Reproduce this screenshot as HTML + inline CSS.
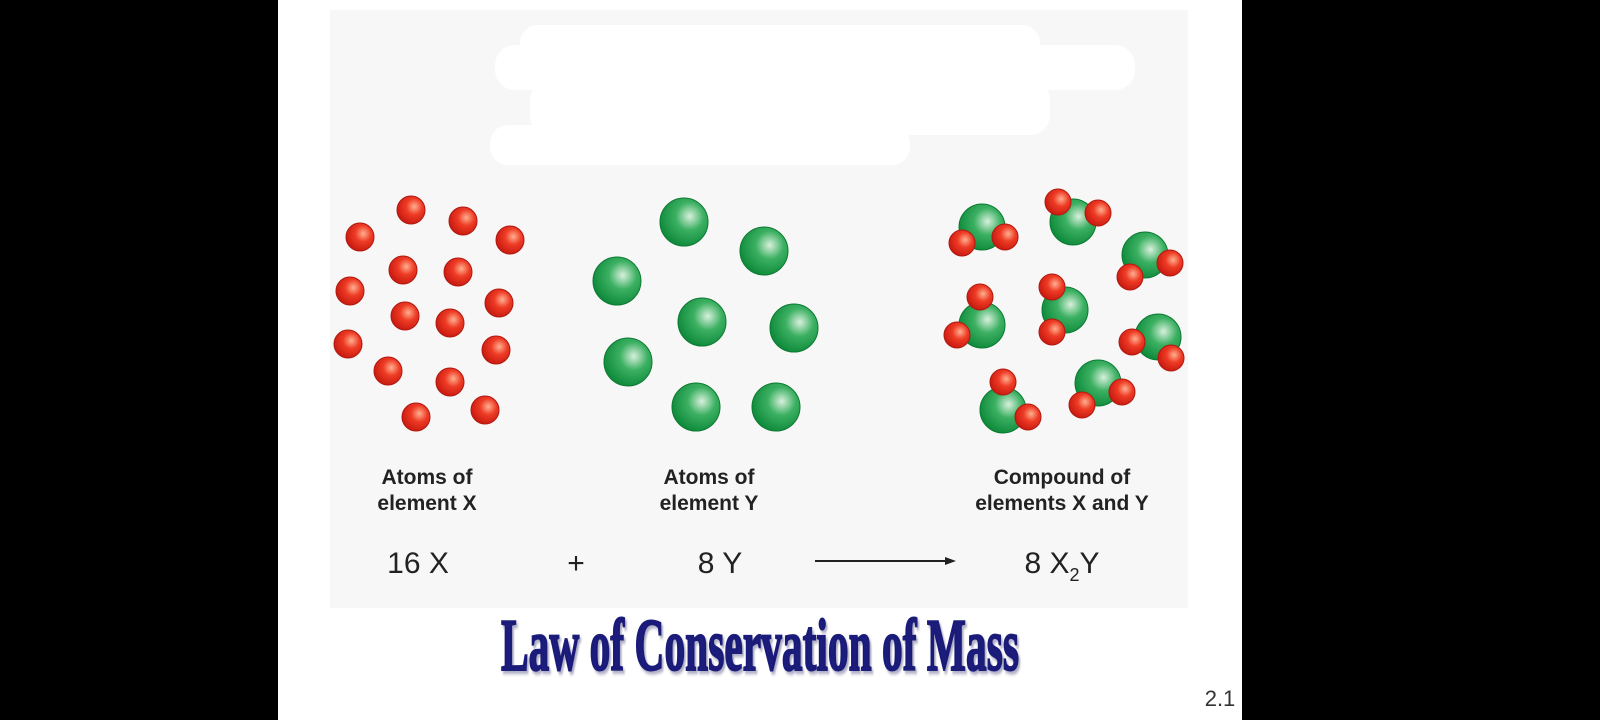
<!DOCTYPE html>
<html><head><meta charset="utf-8"><style>
body{margin:0;background:#000;width:1600px;height:720px;overflow:hidden}
svg{display:block}
</style></head><body>
<svg width="1600" height="720" viewBox="0 0 1600 720" xmlns="http://www.w3.org/2000/svg">
<defs>
<radialGradient id="r" cx="0.62" cy="0.38" r="0.65">
<stop offset="0" stop-color="#ffb090"/><stop offset="0.45" stop-color="#ee3b25"/><stop offset="1" stop-color="#c81a10"/>
</radialGradient>
<radialGradient id="g" cx="0.62" cy="0.38" r="0.65">
<stop offset="0" stop-color="#d8f0dc"/><stop offset="0.45" stop-color="#3cb062"/><stop offset="1" stop-color="#0e8a3a"/>
</radialGradient>
<filter id="sh"><feDropShadow dx="3" dy="3" stdDeviation="1.5" flood-color="#8888aa" flood-opacity="0.7"/></filter>
</defs>
<rect x="278" y="0" width="964" height="720" fill="#fff"/>
<rect x="330" y="10" width="858" height="598" fill="#f7f7f7"/>
<rect x="520" y="25" width="520" height="40" rx="18" fill="#fff"/>
<rect x="495" y="45" width="640" height="45" rx="20" fill="#fff"/>
<rect x="530" y="80" width="520" height="55" rx="20" fill="#fff"/>
<rect x="490" y="125" width="420" height="40" rx="18" fill="#fff"/>
<g stroke="#b01810" stroke-width="1" fill="url(#r)">
<circle cx="360" cy="237" r="14"/><circle cx="411" cy="210" r="14"/><circle cx="463" cy="221" r="14"/><circle cx="510" cy="240" r="14"/>
<circle cx="350" cy="291" r="14"/><circle cx="403" cy="270" r="14"/><circle cx="458" cy="272" r="14"/><circle cx="499" cy="303" r="14"/>
<circle cx="405" cy="316" r="14"/><circle cx="450" cy="323" r="14"/><circle cx="348" cy="344" r="14"/><circle cx="496" cy="350" r="14"/>
<circle cx="388" cy="371" r="14"/><circle cx="450" cy="382" r="14"/><circle cx="485" cy="410" r="14"/><circle cx="416" cy="417" r="14"/>
</g>
<g stroke="#0c7a32" stroke-width="1" fill="url(#g)">
<circle cx="684" cy="222" r="24"/><circle cx="764" cy="251" r="24"/><circle cx="617" cy="281" r="24"/><circle cx="702" cy="322" r="24"/>
<circle cx="794" cy="328" r="24"/><circle cx="628" cy="362" r="24"/><circle cx="696" cy="407" r="24"/><circle cx="776" cy="407" r="24"/>
</g>
<g stroke-width="1">
<circle cx="982" cy="227" r="23" fill="url(#g)" stroke="#0c7a32"/><circle cx="962" cy="243" r="13" fill="url(#r)" stroke="#b01810"/><circle cx="1005" cy="237" r="13" fill="url(#r)" stroke="#b01810"/>
<circle cx="1073" cy="222" r="23" fill="url(#g)" stroke="#0c7a32"/><circle cx="1058" cy="202" r="13" fill="url(#r)" stroke="#b01810"/><circle cx="1098" cy="213" r="13" fill="url(#r)" stroke="#b01810"/>
<circle cx="1145" cy="255" r="23" fill="url(#g)" stroke="#0c7a32"/><circle cx="1130" cy="277" r="13" fill="url(#r)" stroke="#b01810"/><circle cx="1170" cy="263" r="13" fill="url(#r)" stroke="#b01810"/>
<circle cx="982" cy="325" r="23" fill="url(#g)" stroke="#0c7a32"/><circle cx="980" cy="297" r="13" fill="url(#r)" stroke="#b01810"/><circle cx="957" cy="335" r="13" fill="url(#r)" stroke="#b01810"/>
<circle cx="1065" cy="310" r="23" fill="url(#g)" stroke="#0c7a32"/><circle cx="1052" cy="287" r="13" fill="url(#r)" stroke="#b01810"/><circle cx="1052" cy="332" r="13" fill="url(#r)" stroke="#b01810"/>
<circle cx="1158" cy="337" r="23" fill="url(#g)" stroke="#0c7a32"/><circle cx="1132" cy="342" r="13" fill="url(#r)" stroke="#b01810"/><circle cx="1171" cy="358" r="13" fill="url(#r)" stroke="#b01810"/>
<circle cx="1003" cy="410" r="23" fill="url(#g)" stroke="#0c7a32"/><circle cx="1003" cy="382" r="13" fill="url(#r)" stroke="#b01810"/><circle cx="1028" cy="417" r="13" fill="url(#r)" stroke="#b01810"/>
<circle cx="1098" cy="383" r="23" fill="url(#g)" stroke="#0c7a32"/><circle cx="1082" cy="405" r="13" fill="url(#r)" stroke="#b01810"/><circle cx="1122" cy="392" r="13" fill="url(#r)" stroke="#b01810"/>
</g>
<g font-family="Liberation Sans, sans-serif" font-weight="bold" font-size="21" fill="#222" text-anchor="middle">
<text x="427" y="484">Atoms of</text><text x="427" y="510">element X</text>
<text x="709" y="484">Atoms of</text><text x="709" y="510">element Y</text>
<text x="1062" y="484">Compound of</text><text x="1062" y="510">elements X and Y</text>
</g>
<g font-family="Liberation Sans, sans-serif" font-size="30" fill="#222" text-anchor="middle">
<text x="418" y="573">16 X</text>
<text x="576" y="573">+</text>
<text x="720" y="573">8 Y</text>
<text x="1062" y="573">8 X<tspan font-size="18" dy="8">2</tspan><tspan dy="-8">Y</tspan></text>
</g>
<line x1="815" y1="561" x2="948" y2="561" stroke="#222" stroke-width="2"/>
<polygon points="956,561 945,557 945,565" fill="#222"/>
<text x="0" y="0" transform="translate(760,670) scale(0.56,1)" font-family="Liberation Serif, serif" font-weight="bold" font-size="74" fill="#1a1a7a" stroke="#1a1a7a" stroke-width="2" text-anchor="middle" filter="url(#sh)">Law of Conservation of Mass</text>
<text x="1220" y="706" font-family="Liberation Sans, sans-serif" font-size="22" fill="#333" text-anchor="middle">2.1</text>
</svg>
</body></html>
